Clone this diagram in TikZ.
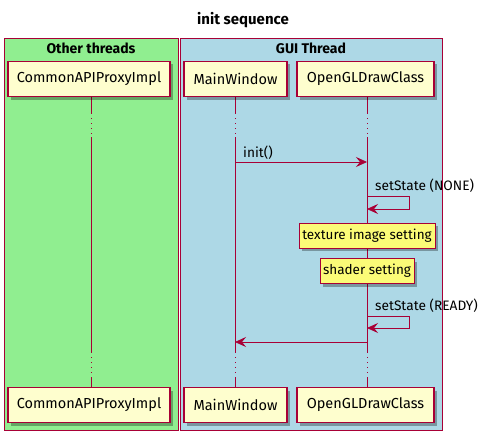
\documentclass[tikz,border=0pt]{standalone}
\usepackage{fontspec}
\setmainfont{Fira Sans}
\usetikzlibrary{arrows.meta,shadows}
\definecolor{umlred}{HTML}{A80036}
\definecolor{partfill}{HTML}{FEFECE}
\definecolor{notefill}{HTML}{FBFB77}
\definecolor{othergreen}{HTML}{90EE90}
\definecolor{guiblue}{HTML}{ADD8E6}

\begin{document}
\begin{tikzpicture}[x=1pt,y=-1pt]
    \tikzstyle{group}=[draw=umlred,line width=.8pt]
    \tikzstyle{participant}=[draw=umlred,fill=partfill,line width=1.1pt,minimum height=35pt,inner sep=0pt,font=\fontsize{14.5}{16}\selectfont,drop shadow={shadow xshift=3pt,shadow yshift=-3pt,fill=black,opacity=.3}]
    \tikzstyle{note}=[draw=umlred,fill=notefill,line width=.8pt,minimum height=25pt,inner sep=0pt,font=\fontsize{13.5}{15}\selectfont,drop shadow={shadow xshift=3pt,shadow yshift=-3pt,fill=black,opacity=.3}]
    \tikzstyle{life}=[draw=umlred,line width=.8pt]
    \tikzstyle{lifedots}=[draw=umlred,line width=.8pt,dash pattern=on 1pt off 4pt]
    \tikzstyle{msg}=[draw=umlred,line width=.8pt,-{Stealth[length=11pt,width=10pt,inset=4pt]}]
    \tikzstyle{label}=[inner sep=0pt,font=\fontsize{13.7}{15}\selectfont]
    \tikzstyle{heading}=[font=\fontsize{14}{16}\selectfont\bfseries]
    \useasboundingbox (0,0) rectangle (486,441);
    % groups
    \draw[group,fill=othergreen] (4,38) rectangle (178,430);
    \draw[group,fill=guiblue] (180,38) rectangle (442,430);
    \node[font=\fontsize{15}{17}\selectfont\bfseries] (title) at (243,20) {init sequence};
    \node[heading] (othertitle) at (91,48) {Other threads};
    \node[heading] (guititle) at (311,48) {GUI Thread};
    % lifelines
    \foreach \n/\x in {cp/91,mw/235,gl/367} {
        \draw[life] (\x,97) -- (\x,113);
        \draw[lifedots] (\x,113) -- (\x,137);
        \draw[life] (\x,137) -- (\x,352);
        \draw[lifedots] (\x,352) -- (\x,377);
        \draw[life] (\x,377) -- (\x,387);
    }
    % participants
    \node[participant,minimum width=162pt] (cptop) at (89,79) {CommonAPIProxyImpl};
    \node[participant,minimum width=103pt] (mwtop) at (235.5,79) {MainWindow};
    \node[participant,minimum width=137pt] (gltop) at (365.5,79) {OpenGLDrawClass};
    \node[participant,minimum width=162pt] (cpbot) at (89,405) {CommonAPIProxyImpl};
    \node[participant,minimum width=103pt] (mwbot) at (235.5,405) {MainWindow};
    \node[participant,minimum width=137pt] (glbot) at (365.5,405) {OpenGLDrawClass};
    % messages
    \coordinate (mwinit) at (235,162);
    \coordinate (glinit) at (367,162);
    \draw[msg] (mwinit) -- (glinit);
    \node[label,anchor=base west] (initlbl) at (243,157) {init()};
    \coordinate (glnone) at (367,196);
    \coordinate (glnoneend) at (367,209);
    \draw[msg] (glnone) -- ++(42,0) |- (glnoneend);
    \node[label,anchor=base west] (nonelbl) at (375,190.5) {setState (NONE)};
    \node[note,minimum width=136pt] (texnote) at (367,235.5) {texture image setting};
    \node[note,minimum width=94pt] (shadnote) at (367,271) {shader setting};
    \coordinate (glready) at (367,316);
    \coordinate (glreadyend) at (367,328);
    \draw[msg] (glready) -- ++(42,0) |- (glreadyend);
    \node[label,anchor=base west] (readylbl) at (375,310) {setState (READY)};
    \coordinate (glret) at (367,342);
    \coordinate (mwret) at (235,342);
    \draw[msg] (glret) -- (mwret);
\end{tikzpicture}
\end{document}
